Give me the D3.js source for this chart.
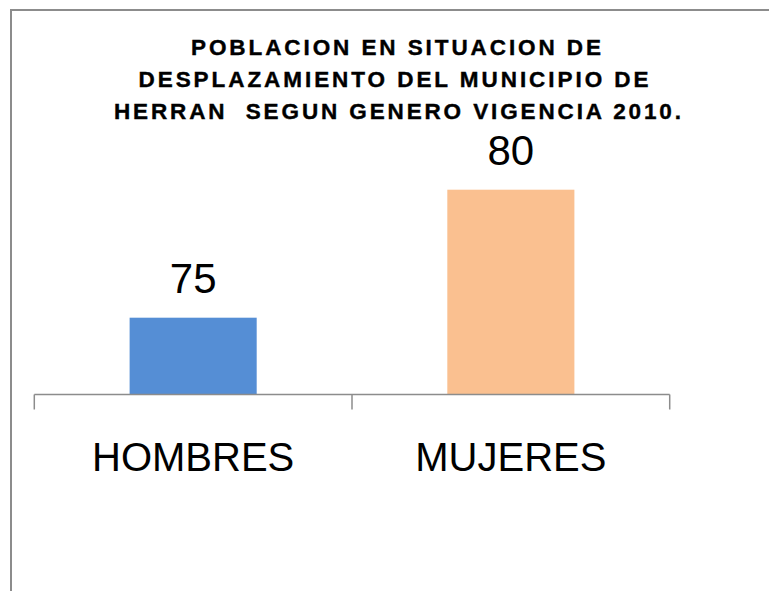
<!DOCTYPE html>
<html>
<head>
<meta charset="utf-8">
<script src="https://cdn.jsdelivr.net/npm/d3@7"></script>
<style>
  html, body { margin: 0; padding: 0; background: #ffffff; }
  svg { display: block; }
</style>
</head>
<body>
<script>
const categories = ["HOMBRES", "MUJERES"];
const values = [75, 80];
const barColors = ["#558ed5", "#fac090"];
const titleLines = [
  "POBLACION EN SITUACION DE",
  "DESPLAZAMIENTO DEL MUNICIPIO DE",
  "HERRAN  SEGUN GENERO VIGENCIA 2010."
];

const W = 769, H = 591;
const svg = d3.select("body").append("svg")
  .attr("width", W).attr("height", H);

// outer border (only top and left visible)
svg.append("path")
  .attr("d", `M${11},${H} L${11},${10} L${W},${10}`)
  .attr("fill", "none")
  .attr("stroke", "#8c8c8c")
  .attr("stroke-width", 2);

// title
const titleStarts = [191, 138.5, 114];
const titleLens = [410, 510, 567];
const titleBase = [55, 87, 119];
svg.append("g").selectAll("text")
  .data(titleLines)
  .join("text")
  .attr("x", (d, i) => titleStarts[i])
  .attr("y", (d, i) => titleBase[i])
  .attr("textLength", (d, i) => titleLens[i])
  .attr("lengthAdjust", "spacing")
  .attr("font-family", "'Liberation Sans', Arial, sans-serif")
  .attr("font-weight", "bold")
  .attr("font-size", 22.5)
  .attr("fill", "#000")
  .attr("stroke", "#000")
  .attr("stroke-width", 0.4)
  .style("white-space", "pre")
  .text(d => d);

// scales
const x = d3.scaleBand()
  .domain(categories)
  .range([34.3, 669.7])
  .paddingInner(0.6)
  .paddingOuter(0.3);

const y = d3.scaleLinear()
  .domain([72, 85])
  .range([394.5, 61.7]);

// bars
svg.append("g").selectAll("rect")
  .data(values)
  .join("rect")
  .attr("x", (d, i) => x(categories[i]))
  .attr("y", d => y(d))
  .attr("width", x.bandwidth())
  .attr("height", d => y(72) - y(d))
  .attr("fill", (d, i) => barColors[i]);

// value labels
svg.append("g").selectAll("text")
  .data(values)
  .join("text")
  .attr("x", (d, i) => x(categories[i]) + x.bandwidth() / 2)
  .attr("y", d => y(d) - 25)
  .attr("text-anchor", "middle")
  .attr("font-family", "'Liberation Sans', Arial, sans-serif")
  .attr("font-size", 42)
  .attr("fill", "#000")
  .text(d => d);

// x axis with ticks between categories
const axisG = svg.append("g");
axisG.append("line")
  .attr("x1", 34.3).attr("x2", 669.7)
  .attr("y1", y(72)).attr("y2", y(72))
  .attr("stroke", "#8c8c8c").attr("stroke-width", 1.5);
const tickXs = [34.3, ...categories.slice(1).map(c => x(c) - x.step() * x.paddingInner() / 2), 669.7];
axisG.selectAll("line.tick")
  .data(tickXs)
  .join("line")
  .attr("class", "tick")
  .attr("x1", d => d).attr("x2", d => d)
  .attr("y1", y(72)).attr("y2", y(72) + 15)
  .attr("stroke", "#8c8c8c").attr("stroke-width", 1.5);

axisG.selectAll("text")
  .data(categories)
  .join("text")
  .attr("x", d => x(d) + x.bandwidth() / 2)
  .attr("y", 470.5)
  .attr("text-anchor", "middle")
  .attr("font-family", "'Liberation Sans', Arial, sans-serif")
  .attr("font-size", 40)
  .attr("fill", "#000")
  .text(d => d);
</script>
</body>
</html>
